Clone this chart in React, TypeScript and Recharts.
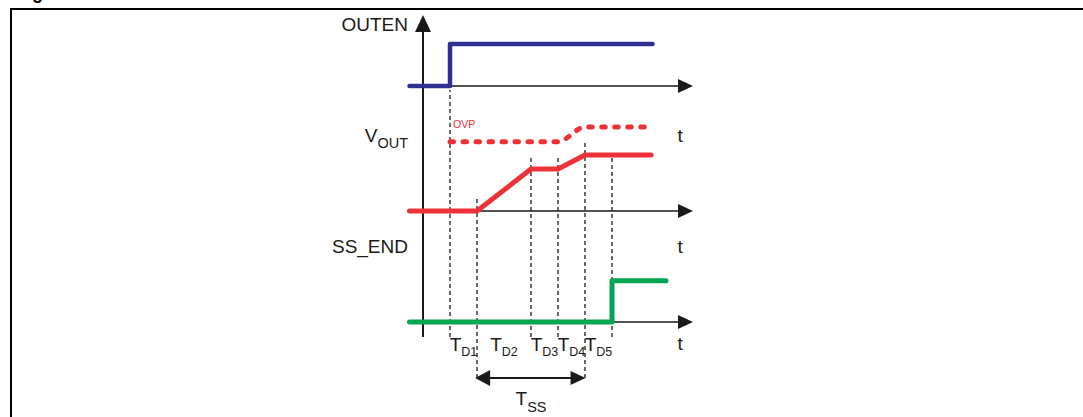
import { ComposedChart, Line, ReferenceDot, ReferenceLine, XAxis, YAxis } from 'recharts'

// time runs in units of one delay step, levels in grid units (lanes stacked)
const EDGE_TIMES = [1, 2, 4, 5, 6, 7]
const EDGE_TOPS = [16.57, 8.93, 11.93, 11.93, 12.86, 11.93]
const EDGE_BOTTOMS = [-1.07, -4, -1.07, -1.07, -4, -1.07]
const DELAY_LABELS = ['D1', 'D2', 'D3', 'D4', 'D5']

const LANE_OUTEN = 16.86
const LANE_VOUT = 7.93
const LANE_SSEND = 0
const AXIS_END = 10

const OUTEN_T = [-0.5, 1, 1, 8.5]
const OUTEN_V = [0, 0, 3, 3]
const VOUT_T = [-0.5, 2, 4, 5, 6, 8.45]
const VOUT_V = [0, 0, 3, 3, 4, 4]
const OVP_T = [1, 5, 6, 8.45]
const OVP_V = [4.95, 4.95, 6, 6]
const SSEND_T = [-0.5, 7, 7, 9]
const SSEND_V = [0, 0, 2.95, 2.95]

const BLUE = '#2e3192'
const RED = '#ec3237'
const GREEN = '#00a651'
const INK = '#1a1a1a'
const FONT = '"Liberation Sans", Arial, sans-serif'

const rows = (ts: number[], vs: number[], base: number) =>
  ts.map((t, i) => ({ t, v: vs[i] + base }))

function label(
  key: string,
  x: number,
  y: number,
  main: string,
  opts: { sub?: string; size?: number; subSize?: number; subDy?: number; anchor?: string; fill?: string } = {},
) {
  const { sub, size = 19, subSize = 13, subDy = 5, anchor = 'start', fill = INK } = opts
  return (
    <ReferenceDot
      key={key}
      x={x}
      y={y}
      r={0}
      ifOverflow="visible"
      shape={(p: any) => (
        <text x={p.cx} y={p.cy} textAnchor={anchor} fill={fill} fontSize={size} fontFamily={FONT}>
          <tspan>{main}</tspan>
          {sub && (
            <tspan fontSize={subSize} dy={subDy}>
              {sub}
            </tspan>
          )}
        </text>
      )}
    />
  )
}

function arrow(key: string, x: number, y: number, dir: 'right' | 'left' | 'up') {
  return (
    <ReferenceDot
      key={key}
      x={x}
      y={y}
      r={0}
      ifOverflow="visible"
      shape={(p: any) => {
        const { cx, cy } = p
        const pts =
          dir === 'right'
            ? `${cx},${cy} ${cx - 15},${cy - 7} ${cx - 15},${cy + 7}`
            : dir === 'left'
              ? `${cx},${cy} ${cx + 15},${cy - 8} ${cx + 15},${cy + 8}`
              : `${cx},${cy} ${cx - 8},${cy + 17} ${cx + 8},${cy + 17}`
        return <polygon points={pts} fill={INK} />
      }}
    />
  )
}

export default function App() {
  const lanes = [LANE_OUTEN, LANE_VOUT, LANE_SSEND]
  const mids = DELAY_LABELS.map((_, i) => (EDGE_TIMES[i] + EDGE_TIMES[i + 1]) / 2)

  return (
    <div style={{ position: 'absolute', left: 0, top: 0, width: 1083, height: 417, background: '#fff', overflow: 'hidden' }}>
      <div
        style={{
          position: 'absolute',
          left: 16,
          top: -15.7,
          fontFamily: FONT,
          fontWeight: 'bold',
          fontSize: 18,
          lineHeight: '18px',
          whiteSpace: 'nowrap',
        }}
      >
        Figure
      </div>
      <div
        style={{
          position: 'absolute',
          left: 10,
          top: 8,
          width: 1100,
          height: 430,
          borderTop: '2px solid #000',
          borderLeft: '2px solid #000',
        }}
      />
      <div style={{ position: 'absolute', left: 0, top: 0 }}>
        <ComposedChart width={1083} height={417} margin={{ top: 14, right: 336, bottom: 11, left: 369 }}>
          <XAxis type="number" dataKey="t" domain={[-2, 12]} hide allowDataOverflow />
          <YAxis type="number" domain={[-6, 22]} hide allowDataOverflow width={0} />

          {EDGE_TIMES.map((t, i) => (
            <ReferenceLine
              key={`edge-${t}`}
              segment={[
                { x: t, y: EDGE_BOTTOMS[i] },
                { x: t, y: EDGE_TOPS[i] },
              ]}
              stroke={INK}
              strokeWidth={1.3}
              strokeDasharray="4 3"
              ifOverflow="visible"
            />
          ))}

          <ReferenceLine
            segment={[
              { x: 0, y: -1.07 },
              { x: 0, y: 21 },
            ]}
            stroke={INK}
            strokeWidth={2}
            ifOverflow="visible"
          />
          {lanes.map((b) => (
            <ReferenceLine
              key={`axis-${b}`}
              segment={[
                { x: 0, y: b },
                { x: AXIS_END - 0.3, y: b },
              ]}
              stroke={INK}
              strokeWidth={1.6}
              ifOverflow="visible"
            />
          ))}
          {lanes.map((b) => arrow(`ah-${b}`, AXIS_END, b, 'right'))}
          {arrow('av', 0, 21.93, 'up')}

          <ReferenceLine
            segment={[
              { x: 2.3, y: -4 },
              { x: 5.7, y: -4 },
            ]}
            stroke={INK}
            strokeWidth={2}
            ifOverflow="visible"
          />
          {arrow('tss-l', 1.93, -4, 'left')}
          {arrow('tss-r', 6.02, -4, 'right')}

          <Line
            data={rows(OUTEN_T, OUTEN_V, LANE_OUTEN)}
            dataKey="v"
            type="linear"
            stroke={BLUE}
            strokeWidth={4.5}
            strokeLinecap="round"
            strokeLinejoin="round"
            dot={false}
            isAnimationActive={false}
          />
          <Line
            data={rows(OVP_T, OVP_V, LANE_VOUT)}
            dataKey="v"
            type="monotone"
            stroke={RED}
            strokeWidth={5}
            strokeDasharray="3.5 9.5"
            strokeLinecap="round"
            dot={false}
            isAnimationActive={false}
          />
          <Line
            data={rows(VOUT_T, VOUT_V, LANE_VOUT)}
            dataKey="v"
            type="linear"
            stroke={RED}
            strokeWidth={5}
            strokeLinecap="round"
            strokeLinejoin="round"
            dot={false}
            isAnimationActive={false}
          />
          <Line
            data={rows(SSEND_T, SSEND_V, LANE_SSEND)}
            dataKey="v"
            type="linear"
            stroke={GREEN}
            strokeWidth={5}
            strokeLinecap="round"
            strokeLinejoin="round"
            dot={false}
            isAnimationActive={false}
          />

          {label('outen', -0.556, 20.79, 'OUTEN', { anchor: 'end' })}
          {label('vout', -0.556, 12.86, 'V', { anchor: 'end', sub: 'OUT', subSize: 14.5, subDy: 6 })}
          {label('ssend', -0.556, 4.93, 'SS_END', { anchor: 'end' })}
          {label('ovp', 1.11, 13.86, 'OVP', { size: 10.5, fill: RED })}
          {label('t1', 9.52, 12.86, 't', { anchor: 'middle' })}
          {label('t2', 9.52, 4.93, 't', { anchor: 'middle' })}
          {label('t3', 9.52, -2.0, 't', { anchor: 'middle' })}
          {DELAY_LABELS.map((d, i) =>
            label(`td-${d}`, mids[i], -2.07, 'T', { anchor: 'middle', sub: d, subSize: 12.5, subDy: 5 }),
          )}
          {label('tss', 4, -5.93, 'T', { anchor: 'middle', sub: 'SS', subSize: 14.5, subDy: 7 })}
        </ComposedChart>
      </div>
    </div>
  )
}
